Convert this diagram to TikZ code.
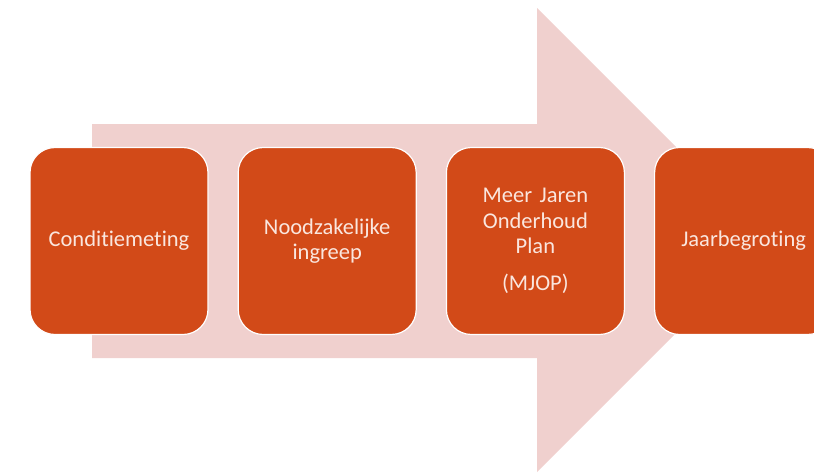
\documentclass[tikz,border=0pt]{standalone}
\usepackage{fontspec}
\setmainfont{Carlito}[Ligatures=NoCommon]
\usetikzlibrary{positioning}
\definecolor{arrowpink}{RGB}{240,208,206}
\definecolor{stepred}{RGB}{210,74,24}
\definecolor{steptext}{RGB}{250,230,222}
\begin{document}
\begin{tikzpicture}[
            x=1pt, y=-1pt,
            node distance=29pt,
            stepbox/.style={rectangle, rounded corners=25pt, fill=stepred, draw=white,
                line width=1.2pt, minimum width=178pt, minimum height=187pt,
                text width=160pt, align=center, text=steptext,
                font=\fontsize{22.5}{25.5}\selectfont}
        ]
        \useasboundingbox (0,0) rectangle (814,472);
        \clip (0,0) rectangle (814,472);
        % big arrow behind the steps
        \fill[arrowpink] (92,124) -- (537,124) -- (537,8) -- (769,240)
            -- (537,472) -- (537,358) -- (92,358) -- cycle;
        \node[stepbox] (meting) at (119,241) {Conditiemeting};
        \node[stepbox, right=of meting] (ingreep) {Noodzakelijke\\ingreep};
        \node[stepbox, right=of ingreep] (mjop) {Meer Jaren\\Onderhoud\\Plan\\[11pt](MJOP)};
        \node[stepbox, right=of mjop] (begroting) {Jaarbegroting};
    \end{tikzpicture}
\end{document}
